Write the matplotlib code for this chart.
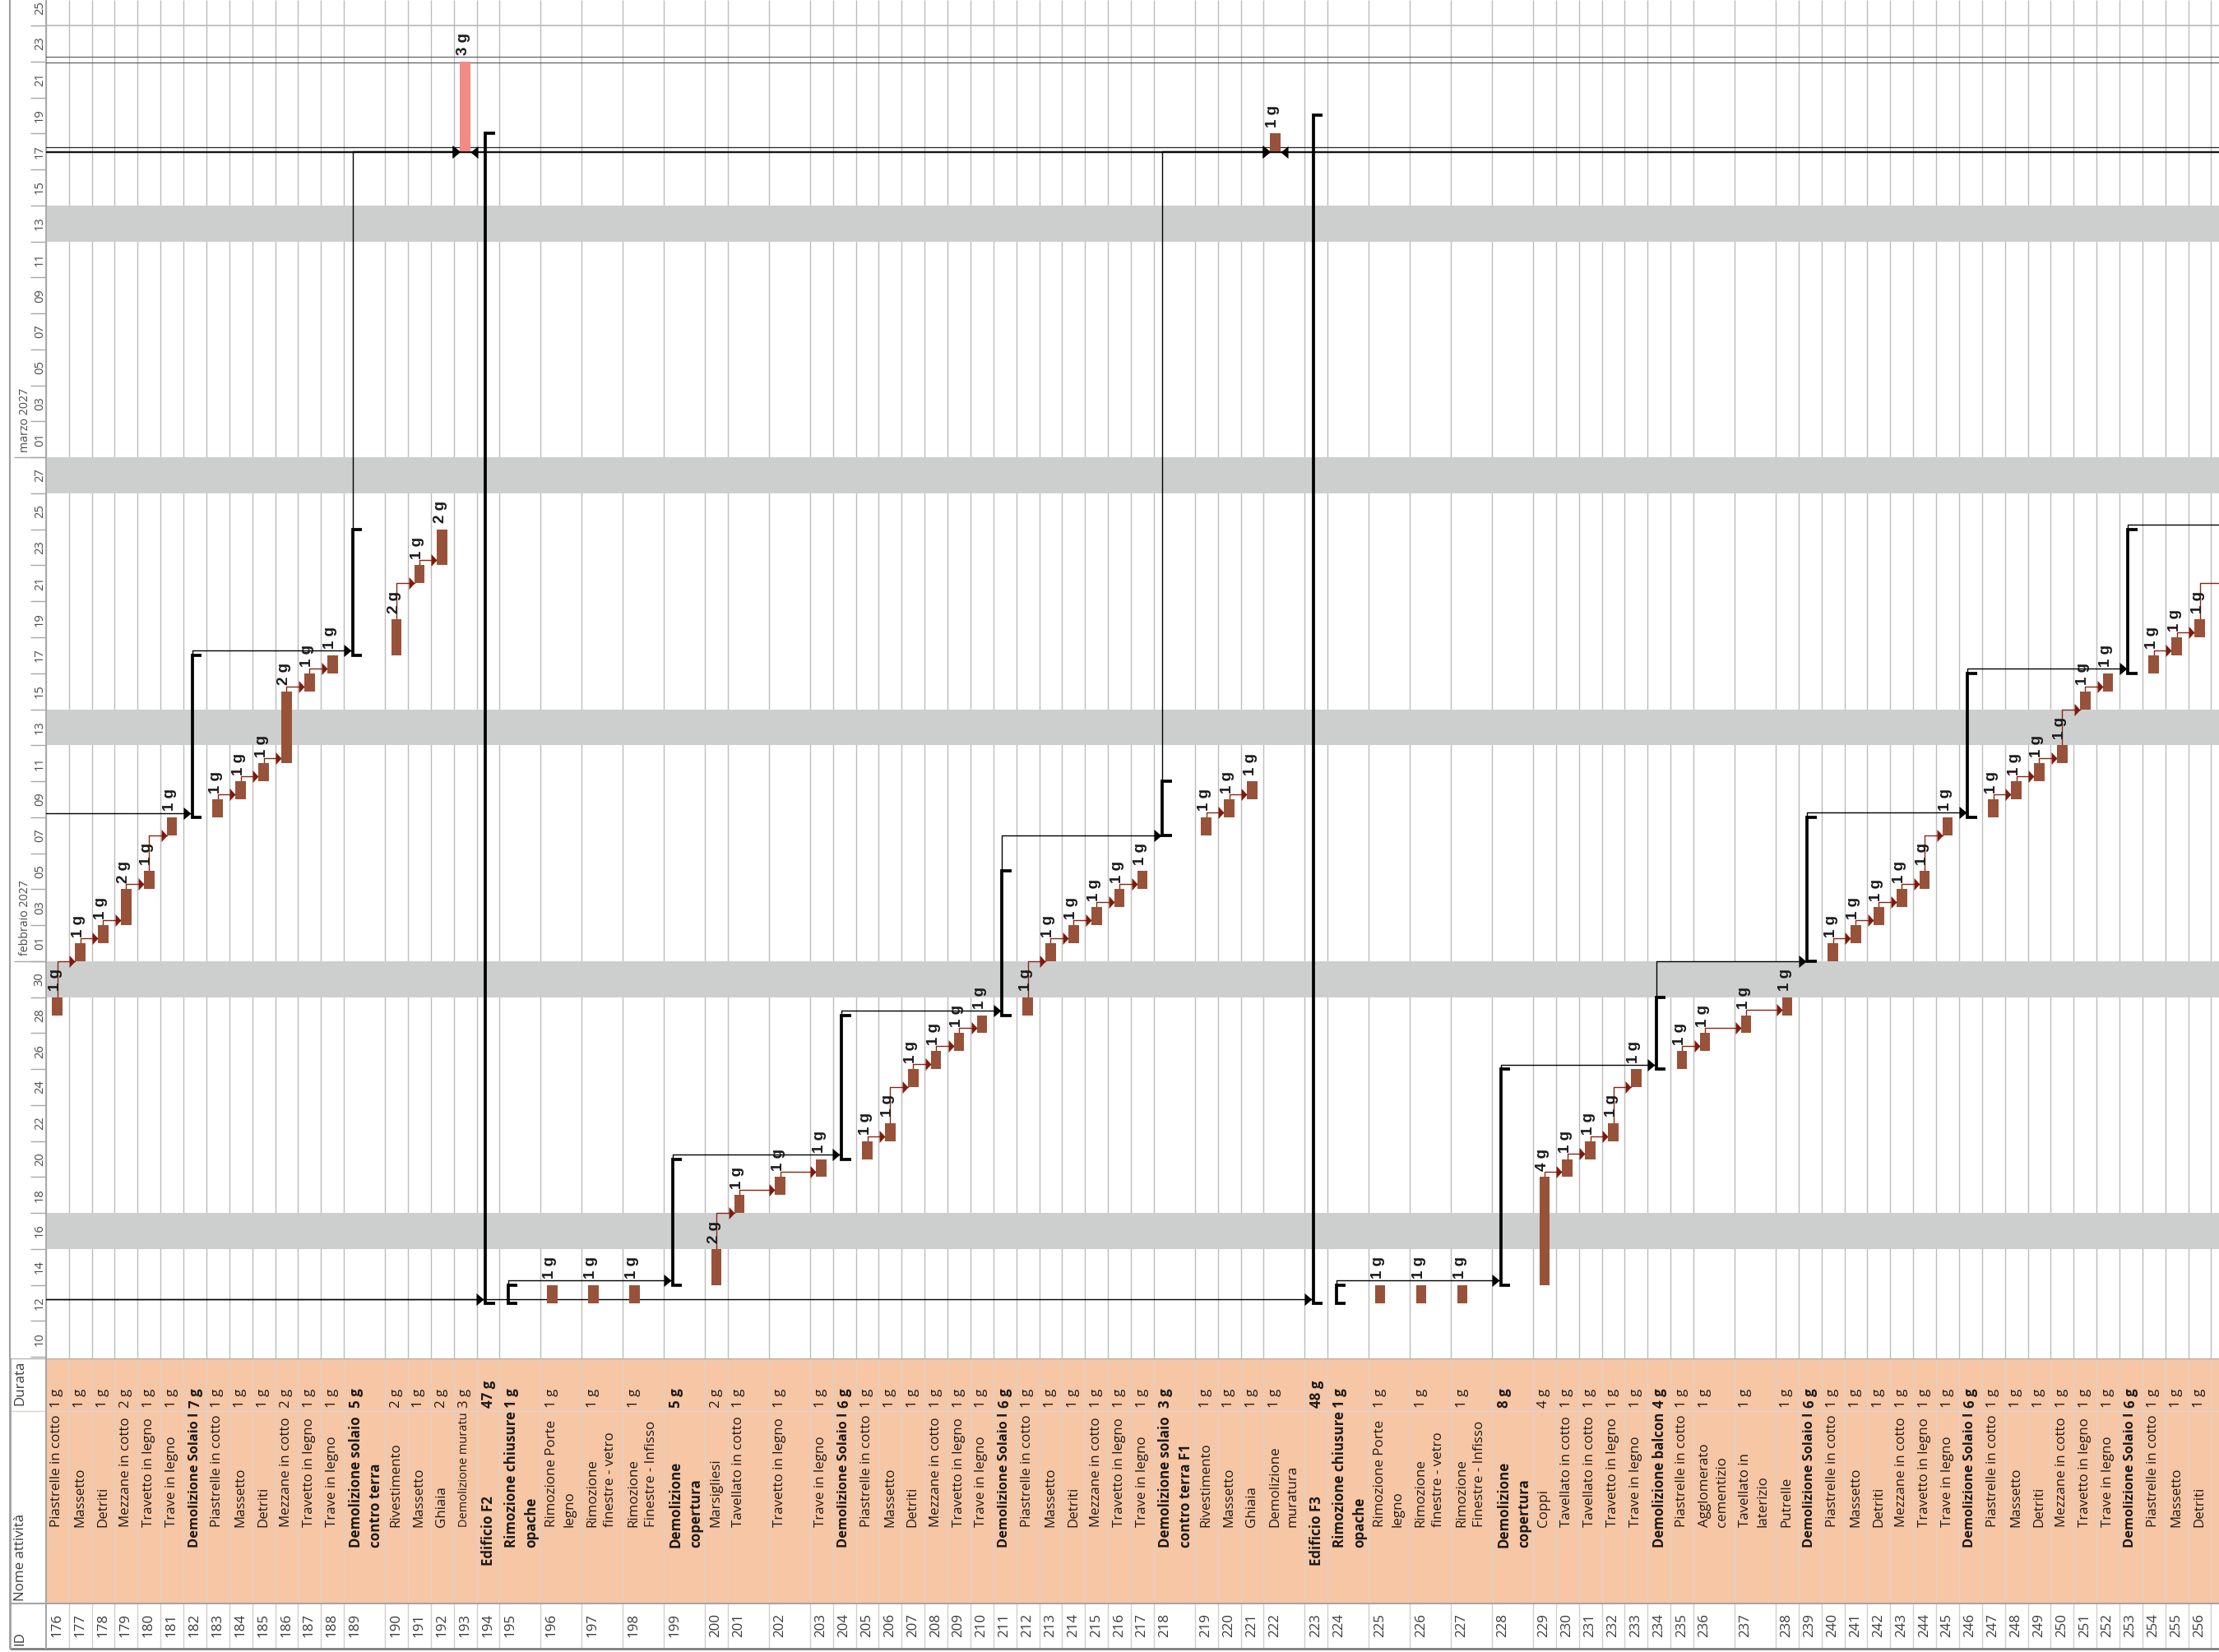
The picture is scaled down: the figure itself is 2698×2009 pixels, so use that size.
import matplotlib
matplotlib.use("Agg")
import matplotlib.pyplot as plt
import matplotlib.dates as mdates
from matplotlib.patches import Rectangle

plt.rcParams['font.family'] = ['Open Sans', 'DejaVu Sans']

# ---------------- data ----------------
ids = list(range(176, 257))

names = [
    # 176-189
    "Piastrelle in cotto", "Massetto", "Detriti", "Mezzane in cotto",
    "Travetto in legno", "Trave in legno", "Demolizione Solaio I",
    "Piastrelle in cotto", "Massetto", "Detriti", "Mezzane in cotto",
    "Travetto in legno", "Trave in legno", "Demolizione solaio\ncontro terra",
    # 190-199
    "Rivestimento", "Massetto", "Ghiaia", "Demolizione muratu", "Edificio F2",
    "Rimozione chiusure\nopache", "Rimozione Porte\nlegno",
    "Rimozione\nfinestre - vetro", "Rimozione\nFinestre - Infisso",
    "Demolizione\ncopertura",
    # 200-209
    "Marsigliesi", "Tavellato in cotto", "Travetto in legno", "Trave in legno",
    "Demolizione Solaio I", "Piastrelle in cotto", "Massetto", "Detriti",
    "Mezzane in cotto", "Travetto in legno",
    # 210-219
    "Trave in legno", "Demolizione Solaio I", "Piastrelle in cotto", "Massetto",
    "Detriti", "Mezzane in cotto", "Travetto in legno", "Trave in legno",
    "Demolizione solaio\ncontro terra F1", "Rivestimento",
    # 220-229
    "Massetto", "Ghiaia", "Demolizione\nmuratura", "Edificio F3",
    "Rimozione chiusure\nopache", "Rimozione Porte\nlegno",
    "Rimozione\nfinestre - vetro", "Rimozione\nFinestre - Infisso",
    "Demolizione\ncopertura", "Coppi",
    # 230-239
    "Tavellato in cotto", "Tavellato in cotto", "Travetto in legno",
    "Trave in legno", "Demolizione balcon", "Piastrelle in cotto",
    "Agglomerato\ncementizio", "Tavellato in\nlaterizio", "Putrelle",
    "Demolizione Solaio I",
    # 240-249
    "Piastrelle in cotto", "Massetto", "Detriti", "Mezzane in cotto",
    "Travetto in legno", "Trave in legno", "Demolizione Solaio I",
    "Piastrelle in cotto", "Massetto", "Detriti",
    # 250-256
    "Mezzane in cotto", "Travetto in legno", "Trave in legno",
    "Demolizione Solaio I", "Piastrelle in cotto", "Massetto", "Detriti",
]

durations = [
    "1 g", "1 g", "1 g", "2 g", "1 g", "1 g", "7 g", "1 g", "1 g", "1 g", "2 g", "1 g", "1 g", "5 g",
    "2 g", "1 g", "2 g", "3 g", "47 g", "1 g", "1 g", "1 g", "1 g", "5 g",
    "2 g", "1 g", "1 g", "1 g", "6 g", "1 g", "1 g", "1 g", "1 g", "1 g",
    "1 g", "6 g", "1 g", "1 g", "1 g", "1 g", "1 g", "1 g", "3 g", "1 g",
    "1 g", "1 g", "1 g", "48 g", "1 g", "1 g", "1 g", "1 g", "8 g", "4 g",
    "1 g", "1 g", "1 g", "1 g", "4 g", "1 g", "1 g", "1 g", "1 g", "6 g",
    "1 g", "1 g", "1 g", "1 g", "1 g", "1 g", "6 g", "1 g", "1 g", "1 g",
    "1 g", "1 g", "1 g", "6 g", "1 g", "1 g", "1 g",
]

starts = [
    "01-29", "02-01", "02-02", "02-03", "02-05", "02-08", "02-09", "02-09", "02-10", "02-11", "02-12", "02-16", "02-17", "02-18",
    "02-18", "02-22", "02-23", "03-18", "01-13", "01-13", "01-13", "01-13", "01-13", "01-14",
    "01-14", "01-18", "01-19", "01-20", "01-21", "01-21", "01-22", "01-25", "01-26", "01-27",
    "01-28", "01-29", "01-29", "02-01", "02-02", "02-03", "02-04", "02-05", "02-08", "02-08",
    "02-09", "02-10", "03-18", "01-13", "01-13", "01-13", "01-13", "01-13", "01-14", "01-14",
    "01-20", "01-21", "01-22", "01-25", "01-26", "01-26", "01-27", "01-28", "01-29", "02-01",
    "02-01", "02-02", "02-03", "02-04", "02-05", "02-08", "02-09", "02-09", "02-10", "02-11",
    "02-12", "02-15", "02-16", "02-17", "02-17", "02-18", "02-19",
]

finishes = [
    "01-29", "02-01", "02-02", "02-04", "02-05", "02-08", "02-17", "02-09", "02-10", "02-11", "02-15", "02-16", "02-17", "02-24",
    "02-19", "02-22", "02-24", "03-22", "03-18", "01-13", "01-13", "01-13", "01-13", "01-20",
    "01-15", "01-18", "01-19", "01-20", "01-28", "01-21", "01-22", "01-25", "01-26", "01-27",
    "01-28", "02-05", "01-29", "02-01", "02-02", "02-03", "02-04", "02-05", "02-10", "02-08",
    "02-09", "02-10", "03-18", "03-19", "01-13", "01-13", "01-13", "01-13", "01-25", "01-19",
    "01-20", "01-21", "01-22", "01-25", "01-29", "01-26", "01-27", "01-28", "01-29", "02-08",
    "02-01", "02-02", "02-03", "02-04", "02-05", "02-08", "02-16", "02-09", "02-10", "02-11",
    "02-12", "02-15", "02-16", "02-24", "02-17", "02-18", "02-19",
]

summary_ids = [182, 189, 194, 195, 199, 204, 211, 218, 223, 224, 228, 234, 239, 246, 253]
top_ids = [194, 223]
wide_ids = [189, 195, 196, 197, 198, 199, 201, 202, 218, 222, 224, 225, 226, 227, 228, 236, 237]
pink_ids = [193]

task_links = [
    (176, 177), (177, 178), (178, 179), (179, 180), (180, 181),
    (183, 184), (184, 185), (185, 186), (186, 187), (187, 188),
    (190, 191), (191, 192),
    (200, 201), (201, 202), (202, 203),
    (205, 206), (206, 207), (207, 208), (208, 209), (209, 210),
    (212, 213), (213, 214), (214, 215), (215, 216), (216, 217),
    (219, 220), (220, 221),
    (229, 230), (230, 231), (231, 232), (232, 233),
    (235, 236), (236, 237), (237, 238),
    (240, 241), (241, 242), (242, 243), (243, 244), (244, 245),
    (247, 248), (248, 249), (249, 250), (250, 251), (251, 252),
    (254, 255), (255, 256),
]
summary_links = [
    (182, 189), (189, 193), (195, 199), (199, 204), (204, 211), (211, 218),
    (218, 222), (224, 228), (228, 234), (234, 239), (239, 246), (246, 253),
]
links_from_left = [182, 194, 223]
links_from_right = [193, 222]
summary_to_right = [253]
task_to_right = [(256, "02-22")]
cross_dates = ["03-18", "03-23"]
timescale_mark = "03-25"

weekend_bands = ["01-16", "01-30", "02-13", "02-27", "03-13"]
day_labels = ["10", "12", "14", "16", "18", "20", "22", "24", "26", "28", "30",
              "01", "03", "05", "07", "09", "11", "13", "15", "17", "19", "21", "23", "25", "27",
              "01", "03", "05", "07", "09", "11", "13", "15", "17", "19", "21", "23", "25"]
month_labels = [("02-01", "febbraio 2027"), ("03-01", "marzo 2027")]


def dnum(s):
    return mdates.datestr2num("2027-" + s)


# ---------------- layout (output pixels) ----------------
W, H = 2698, 2009
ROW = 27.87          # px of a one-line row
WIDE = 49.94 / ROW   # two-line row
X0 = 55.8            # left edge of gantt area
XL = 11.7            # outer left border
GY = 1652            # bottom of gantt / top of table
TB = 2005            # bottom of table
NAME_TOP = 1717      # name cell / duration cell border

BAR_HW = 6.35 / ROW
BRK = 10.5 / ROW
CAP = 11.5 / ROW

BROWN = '#98523A'
PINK = '#F28A86'
LINK_RED = '#8A2414'
ARROW_RED = '#7E1A0C'

widths = [WIDE if i in wide_ids else 1.0 for i in ids]
lefts = []
acc = 0.0
for w in widths:
    lefts.append(acc)
    acc += w
edges = lefts + [acc]
left_of = dict(zip(ids, lefts))
t0 = {i: dnum(s) for i, s in zip(ids, starts)}
t1 = {i: dnum(f) + 1 for i, f in zip(ids, finishes)}
dur_of = dict(zip(ids, durations))

XMAX = (W - X0) / ROW
YMIN = dnum("01-10") - 0.08
YMAX = dnum("03-26") + 0.42

fig = plt.figure(figsize=(W / 100, H / 100), dpi=100)

# ---------------- gantt ----------------
ax = fig.add_axes([X0 / W, (H - GY) / H, 1 - X0 / W, GY / H])
ax.set_xlim(0, XMAX)
ax.set_ylim(YMIN, YMAX)
ax.set_xticks([])
ax.set_yticks([])
for s in ['top', 'right', 'bottom']:
    ax.spines[s].set_visible(False)
ax.spines['left'].set_color('#A0A0A0')
ax.spines['left'].set_linewidth(1.2)

ax.vlines(edges, YMIN, YMAX, colors='#BCBCBC', lw=1.0, zorder=1)
for s in weekend_bands:
    ax.axhspan(dnum(s), dnum(s) + 2, color='#CDCFCE', lw=0, zorder=2)
ax.axhline(dnum(timescale_mark), color='#BDBDBD', lw=1.3, zorder=2)

# lines of links that cross the whole view
ax.axhline(dnum(cross_dates[0]) - 0.05, color='#151515', lw=1.7, zorder=4)
ax.axhline(dnum(cross_dates[0]) + 0.25, color='#252525', lw=0.9, zorder=4)
ax.axhline(dnum(cross_dates[1]) - 0.05, color='#555555', lw=0.8, zorder=4)
ax.axhline(dnum(cross_dates[1]) + 0.25, color='#555555', lw=0.8, zorder=4)

ARR_R = [(0, 0), (-0.93, 1), (-0.93, -1)]
ARR_RB = [(0, 0), (-1.2, 1), (-1.2, -1)]
ARR_LB = [(0, 0), (1.2, 1), (1.2, -1)]


def bar_c(i):
    return left_of[i] + 0.5


def brk_x(i):
    return left_of[i] + BRK


def tip_x(i):
    if i in summary_ids:
        return brk_x(i) - 1.8 / ROW
    return bar_c(i) - BAR_HW


def src_x(i):
    return brk_x(i) if i in summary_ids else bar_c(i)


for p, s in task_links:
    y = max(t1[p] + 0.28, t0[s])
    ax.plot([src_x(p), src_x(p), tip_x(s)], [t1[p], y, y], color=LINK_RED, lw=1.0, zorder=5)
    ax.plot([tip_x(s)], [y], marker=ARR_R, ms=10.8, color=ARROW_RED, mew=0, zorder=8)

for p, s in summary_links:
    y = max(t1[p] + 0.25, t0[s])
    ax.plot([src_x(p), src_x(p), tip_x(s)], [t1[p], y, y], color='black', lw=1.0, zorder=5)
    ax.plot([tip_x(s)], [y], marker=ARR_RB, ms=13, color='black', mew=0, zorder=8)

for s in links_from_left:
    y = t0[s] + 0.22
    ax.plot([0, tip_x(s)], [y, y], color='black', lw=1.0, zorder=5)
    ax.plot([tip_x(s)], [y], marker=ARR_RB, ms=13, color='black', mew=0, zorder=8)

for s in links_from_right:
    y = t0[s] - 0.05
    ax.plot([bar_c(s) + BAR_HW], [y], marker=ARR_LB, ms=13, color='black', mew=0, zorder=8)
    ax.plot([tip_x(s)], [y], marker=ARR_RB, ms=13, color='black', mew=0, zorder=8)

for p in summary_to_right:
    y = t1[p] + 0.25
    ax.plot([src_x(p), src_x(p), XMAX], [t1[p], y, y], color='black', lw=1.0, zorder=5)

for p, d in task_to_right:
    y = dnum(d)
    ax.plot([src_x(p), src_x(p), XMAX], [t1[p], y, y], color=LINK_RED, lw=1.0, zorder=5)

# bars, summary brackets, duration labels
for i in ids:
    if i in summary_ids:
        x = brk_x(i)
        ax.plot([x + CAP, x, x, x + CAP], [t1[i], t1[i], t0[i], t0[i]], color='black',
                lw=2.7, solid_joinstyle='miter', solid_capstyle='butt', zorder=7)
    else:
        col = PINK if i in pink_ids else BROWN
        ax.add_patch(Rectangle((bar_c(i) - BAR_HW, t0[i]), 2 * BAR_HW, t1[i] - t0[i],
                               facecolor=col, edgecolor='none', zorder=6))
        ax.text(bar_c(i) - 2.5 / ROW, t1[i] + 0.34, dur_of[i], rotation=90, rotation_mode='anchor',
                ha='left', va='center', fontsize=13.5, fontweight='bold',
                family=['Liberation Sans', 'DejaVu Sans'], color='#1a1a1a', zorder=9)

# ---------------- timescale column ----------------
axd = fig.add_axes([XL / W, (H - GY) / H, (X0 - XL) / W, GY / H], sharey=ax)
axd.set_xlim(0, X0 - XL)
axd.tick_params(left=False, labelleft=False, bottom=False, labelbottom=False)
for s in ['top', 'right', 'bottom']:
    axd.spines[s].set_visible(False)
axd.spines['left'].set_color('#A0A0A0')
axd.spines['left'].set_linewidth(1.5)
axd.patch.set_alpha(0)

for k, lab in enumerate(day_labels):
    c = dnum("01-10") + 2 * k
    axd.hlines(c, 25, X0 - XL, colors='#A8A8A8', lw=1.0)
    axd.text(36.6, c + 1, lab, rotation=90, ha='center', va='center', fontsize=10.5,
             color='#4a4a4a', clip_on=True)
for m, lab in month_labels:
    axd.hlines(dnum(m), 5, X0 - XL, colors='#A8A8A8', lw=1.0)
    axd.text(18.5, dnum(m) + 0.3, lab, rotation=90, rotation_mode='anchor', ha='left',
             va='center', fontsize=10.2, color='#4a4a4a')

# ---------------- table ----------------
axt = fig.add_axes([XL / W, (H - TB) / H, (W - XL) / W, (TB - GY) / H])
XT0 = -(X0 - XL) / ROW
axt.set_xlim(XT0, XMAX)
axt.set_ylim(TB, GY)
axt.axis('off')

axt.add_patch(Rectangle((0, GY), XMAX, 1950 - GY, facecolor='#F7C6A4', edgecolor='none', zorder=1))
axt.vlines(edges[1:], GY, 1950, colors='#DAD3CC', lw=1.0, zorder=2)
axt.vlines(edges[1:], 1950, TB, colors='#CFCFCF', lw=1.0, zorder=2)
axt.hlines(1716, XT0, XMAX, colors='#DCD5CF', lw=1.0, zorder=2)
axt.hlines([GY, 1950], XT0, XMAX, colors='#A6A6A6', lw=1.5, zorder=3)
axt.hlines(TB, XT0, XMAX, colors='#7F7F7F', lw=2.0, zorder=3, clip_on=False)
axt.vlines(0, GY, TB, colors='#A6A6A6', lw=1.5, zorder=3)
axt.vlines(XT0, GY, TB, colors='#A0A0A0', lw=2.0, zorder=3, clip_on=False)

PAD = 5.5 / ROW
FS = 12.2
TXT = dict(rotation=90, rotation_mode='anchor', ha='left', va='top')
name_texts = []
for i, nm in zip(ids, names):
    x = left_of[i] + PAD
    bold = 'bold' if i in summary_ids else 'normal'
    if i in top_ids:
        ys = 1904
    elif i in summary_ids:
        ys = 1882
    else:
        ys = 1857
    t = axt.text(x, ys, nm, fontweight=bold, color='#1a1a1a', linespacing=1.45, zorder=4,
                 fontsize=FS, **TXT)
    name_texts.append((t, ys))
    axt.text(x, 1712, dur_of[i], fontweight=bold, color='#1a1a1a', zorder=4, fontsize=FS, **TXT)
    axt.text(x, 1991, str(i), color='#3a3a3a', zorder=4, fontsize=FS, **TXT)

hx = XT0 + 5.0 / ROW
axt.text(hx, 2001, "ID", color='#3a3a3a', zorder=4, fontsize=FS, **TXT)
axt.text(hx, 1947, "Nome attività", color='#3a3a3a', zorder=4, fontsize=FS, **TXT)
axt.text(hx, 1709, "Durata", color='#3a3a3a', zorder=4, fontsize=FS, **TXT)

# shrink any name that would run into the duration cell
fig.canvas.draw()
renderer = fig.canvas.get_renderer()
for t, ys in name_texts:
    room = ys - NAME_TOP
    h = t.get_window_extent(renderer).height
    if h > room:
        t.set_fontsize(FS * room / h)

fig.savefig("out.png", dpi=100)
